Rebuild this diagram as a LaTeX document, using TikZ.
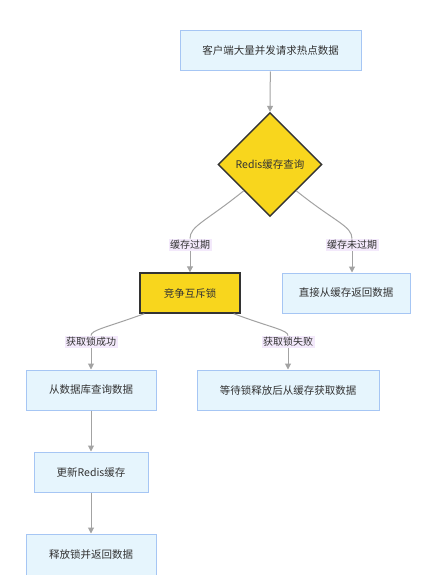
\documentclass[tikz,border=0pt]{standalone}
\usepackage{fontspec}
\setmainfont{Noto Sans CJK SC}
\usetikzlibrary{shapes.geometric,arrows.meta}
\definecolor{boxfill}{HTML}{E6F5FD}
\definecolor{boxline}{HTML}{A6C6F4}
\definecolor{yel}{HTML}{F8D61D}
\definecolor{dark}{HTML}{333333}
\definecolor{edgec}{HTML}{A3A3A3}
\definecolor{lblfill}{HTML}{F3E9FB}
\definecolor{txt}{HTML}{333333}
\begin{document}
\begin{tikzpicture}[x=1pt,y=-1pt,
  every node/.style={text=txt},
  bluebox/.style={draw=boxline, fill=boxfill, line width=1pt, minimum height=40pt, inner sep=0pt, font=\fontsize{10.5}{12}\selectfont},
  lockbox/.style={draw=dark, fill=yel, line width=1.4pt, minimum height=40pt, inner sep=0pt, font=\fontsize{10.5}{12}\selectfont},
  decision/.style={diamond, draw=dark, fill=yel, line width=1.4pt, minimum width=104pt, minimum height=104pt, inner sep=0pt, font=\fontsize{10.5}{12}\selectfont},
  lbl/.style={fill=lblfill, inner sep=1.5pt, font=\fontsize{10}{12}\selectfont},
  conn/.style={draw=edgec, line width=1pt},
  edge/.style={conn, -{Triangle[length=6pt,width=6pt]}, edgec}
]
\useasboundingbox (0,0) rectangle (438,575);
\fill[white] (0,0) rectangle (438,575);
\node[bluebox, minimum width=181pt] (a) at (270.5,51) {客户端大量并发请求热点数据};
\node[decision] (d) at (270,164.5) {Redis缓存查询};
\node[lockbox, minimum width=100pt] (lk) at (190,293) {竞争互斥锁};
\node[bluebox, minimum width=128pt] (hit) at (346,293) {直接从缓存返回数据};
\node[bluebox, minimum width=130pt] (db) at (91,390) {从数据库查询数据};
\node[bluebox, minimum width=182pt] (wait) at (288,390) {等待锁释放后从缓存获取数据};
\node[bluebox, minimum width=114pt] (up) at (91,472) {更新Redis缓存};
\node[bluebox, minimum width=130pt, minimum height=42pt] (rel) at (91,555) {释放锁并返回数据};

\node[lbl] (l1) at (190,245) {缓存过期};
\node[lbl] (l2) at (352,245) {缓存未过期};
\node[lbl] (l3) at (91,342) {获取锁成功};
\node[lbl] (l4) at (288,342) {获取锁失败};

\draw[edge] (a) -- (d.north);
\draw[conn] (d.south west) .. controls (205,222) and (190,226) .. (l1.north);
\draw[edge] (l1.south) -- (lk.north);
\draw[conn] (d.south east) .. controls (335,222) and (352,226) .. (l2.north);
\draw[edge] (l2.south) -- (l2.south |- hit.north);
\draw[conn] ([xshift=5pt]lk.south west) .. controls (105,328) and (91,330) .. (l3.north);
\draw[edge] (l3.south) -- (db.north);
\draw[conn] ([xshift=-7pt]lk.south east) .. controls (272,328) and (288,330) .. (l4.north);
\draw[edge] (l4.south) -- (wait.north);
\draw[edge] (db) -- (up);
\draw[edge] (up) -- (rel);
\end{tikzpicture}
\end{document}
